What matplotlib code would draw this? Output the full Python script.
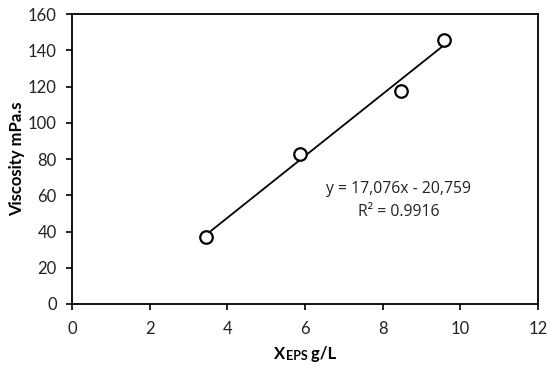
import matplotlib
matplotlib.use("Agg")
import matplotlib.pyplot as plt
import numpy as np

x_eps = [3.45, 5.88, 8.47, 9.58]
viscosity = [37.0, 83.0, 117.5, 145.5]
slope = 17.076
intercept = -20.759
eq_text = "y = 17,076x - 20,759"
r2_text = "R² = 0.9916"
xticks = [0, 2, 4, 6, 8, 10, 12]
yticks = [0, 20, 40, 60, 80, 100, 120, 140, 160]

plt.rcParams['font.family'] = ['Lato', 'DejaVu Sans']

fig = plt.figure(figsize=(5.5, 3.69), dpi=100)
ax = fig.add_axes([72/550, 1-304/369, (538-72)/550, (304-14)/369])

xs = np.array([min(x_eps), max(x_eps)])
ax.plot(xs, slope*xs + intercept, color='black', lw=1.3, zorder=2)
ax.plot(x_eps, viscosity, 'o', ms=9, mfc='white', mec='black', mew=1.6, zorder=3)

ax.set_xlim(0, 12)
ax.set_ylim(0, 160)
ax.set_xticks(xticks)
ax.set_yticks(yticks)
ax.tick_params(direction='out', length=4, width=1.2, labelsize=12, colors='black', labelcolor='#222222')
ax.tick_params(axis='x', pad=8)
ax.tick_params(axis='y', pad=7)
for s in ax.spines.values():
    s.set_linewidth(1.3)
    s.set_color('black')

ax.set_ylabel("Viscosity mPa.s", fontsize=12, fontweight='bold', labelpad=2)

eq_font = ['Open Sans', 'DejaVu Sans']
ax.text(8.42, 63.5, eq_text, ha='center', va='center', fontsize=11.3, color='#222222', family=eq_font)
ax.text(8.42, 51, r2_text, ha='center', va='center', fontsize=11.3, color='#222222', family=eq_font)

t1 = fig.text(274/550, 1-359/369, "X", fontsize=12, fontweight='bold', ha='left', va='baseline')
t2 = ax.annotate("EPS", xy=(1, 0), xycoords=t1, xytext=(0.3, 0), textcoords='offset points',
                 fontsize=9, fontweight='bold', ha='left', va='bottom')
t3 = ax.annotate(" g/L", xy=(1, 0), xycoords=t2, xytext=(0, 0), textcoords='offset points',
                 fontsize=12, fontweight='bold', ha='left', va='bottom')

fig.savefig("out.png", dpi=100)
